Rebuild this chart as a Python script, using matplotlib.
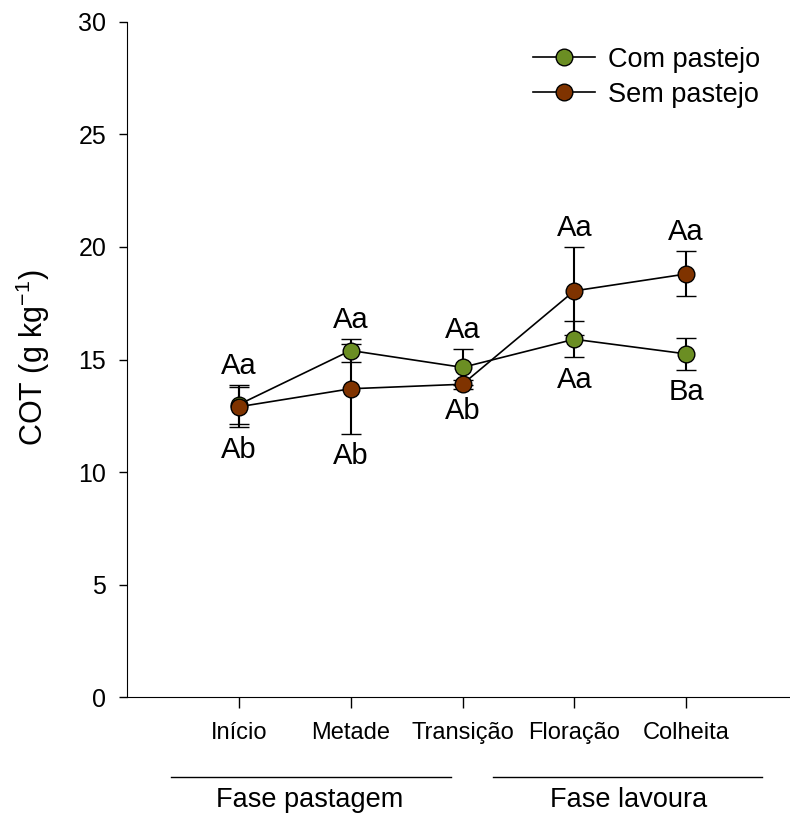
import numpy as np
import matplotlib
matplotlib.use("Agg")
from matplotlib import pyplot as plt
from matplotlib.lines import Line2D

plt.rcParams['font.family'] = ['Liberation Sans', 'DejaVu Sans']
plt.rcParams['mathtext.fontset'] = 'custom'
plt.rcParams['mathtext.rm'] = 'Liberation Sans'
plt.rcParams['mathtext.it'] = 'Liberation Sans'
plt.rcParams['mathtext.default'] = 'regular'

fases = ['Início', 'Metade', 'Transição', 'Floração', 'Colheita']
com_pastejo = [13.0, 15.4, 14.65, 15.9, 15.25]
com_pastejo_err = [0.85, 0.5, 0.8, 0.8, 0.7]
sem_pastejo = [12.9, 13.7, 13.9, 18.05, 18.8]
sem_pastejo_err = [0.9, 2.0, 0.2, 1.95, 1.0]
upper_labels = ['Aa', 'Aa', 'Aa', 'Aa', 'Aa']
lower_labels = ['Ab', 'Ab', 'Ab', 'Aa', 'Ba']

green = '#6b8e23'
brown = '#7f3300'

x = np.arange(1, len(fases) + 1)
com = np.array(com_pastejo)
com_e = np.array(com_pastejo_err)
sem = np.array(sem_pastejo)
sem_e = np.array(sem_pastejo_err)

fig = plt.figure(figsize=(7.9, 8.14), dpi=100)
ax = fig.add_axes([0.161, 0.1437, 0.839, 0.8293])

style = dict(color='black', lw=1.2, elinewidth=1.5, capsize=7, capthick=1.5,
             markersize=12, markeredgecolor='black', markeredgewidth=1.0, marker='o')
ax.errorbar(x, com, yerr=com_e, markerfacecolor=green, **style)
ax.errorbar(x, sem, yerr=sem_e, markerfacecolor=brown, **style)

# letters above / below the error bars
top = np.maximum(com + com_e, sem + sem_e)
bottom = np.minimum(com - com_e, sem - sem_e)
for i in range(len(x)):
    ax.text(x[i], top[i] + 0.85, upper_labels[i], ha='center', va='center', fontsize=21)
    ax.text(x[i], bottom[i] - 1.0, lower_labels[i], ha='center', va='center', fontsize=21)

ax.set_xlim(0, 5.93)
ax.set_ylim(0, 30)
ax.set_yticks(range(0, 31, 5))
ax.set_xticks(x)
ax.set_xticklabels(fases, fontsize=17)
ax.tick_params(axis='y', labelsize=18, direction='out', length=6, width=1, pad=9)
ax.tick_params(axis='x', direction='out', length=8, width=1, pad=10)
ax.spines['top'].set_visible(False)
ax.spines['right'].set_visible(False)
ax.set_ylabel('COT (g kg$^{-1}$)', fontsize=22)
ax.yaxis.set_label_coords(-0.113, 0.502)

# phase brackets below the axis
tr = ax.get_xaxis_transform()
ax.plot([0.39, 2.9], [-0.1185, -0.1185], color='black', lw=1, transform=tr, clip_on=False)
ax.plot([3.27, 5.68], [-0.1185, -0.1185], color='black', lw=1, transform=tr, clip_on=False)
ax.text(1.63, -0.153, 'Fase pastagem', transform=tr, ha='center', va='center', fontsize=19.5)
ax.text(4.49, -0.153, 'Fase lavoura', transform=tr, ha='center', va='center', fontsize=19.5)

handles = [Line2D([], [], color='black', lw=1.2, marker='o', markersize=12,
                  markerfacecolor=c, markeredgecolor='black') for c in (green, brown)]
ax.legend(handles, ['Com pastejo', 'Sem pastejo'], loc='upper left',
          bbox_to_anchor=(0.612, 0.963), frameon=False, fontsize=19.5, borderpad=0,
          borderaxespad=0, handlelength=2.3, handletextpad=0.48, labelspacing=0.33)

fig.savefig('out.png', dpi=100)
